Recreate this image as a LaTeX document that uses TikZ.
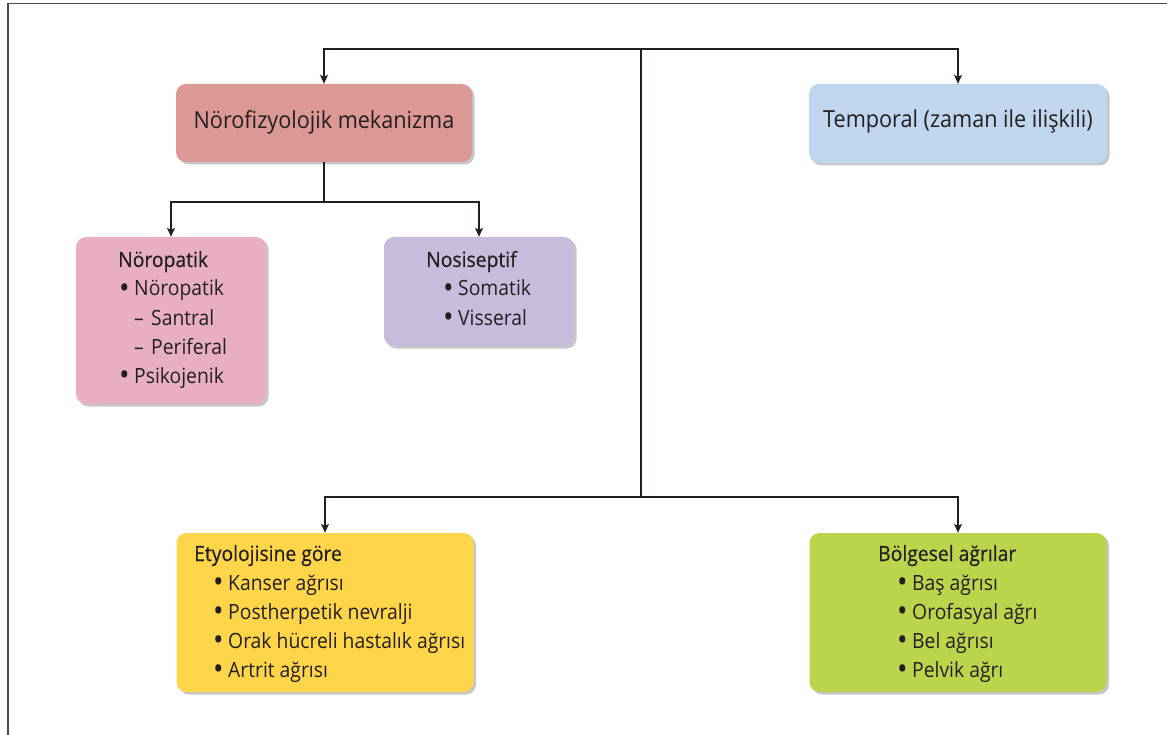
\documentclass[tikz,border=0pt]{standalone}
\usepackage{fontspec}
\setmainfont{Open Sans}[FakeStretch=0.92]
\newfontfamily\subtf{Open Sans}[FakeStretch=0.92, FakeBold=0.5]
\usetikzlibrary{arrows.meta,shadows}
\definecolor{cNeuro}{HTML}{DC9894}
\definecolor{cTemp}{HTML}{C0D6EE}
\definecolor{cNeur}{HTML}{E8AFC3}
\definecolor{cNos}{HTML}{C8BCDD}
\definecolor{cEty}{HTML}{FFD54A}
\definecolor{cBolg}{HTML}{BAD54C}
\definecolor{ink}{HTML}{231F20}
\definecolor{framec}{HTML}{4A4A4A}
\newcommand{\bul}{\makebox[15pt][l]{\raisebox{-0.12em}{\scalebox{1.45}{•}}}}
\newcommand{\dsh}{\makebox[17pt][l]{–}}
\begin{document}
\begin{tikzpicture}[x=1pt,y=-1pt,
  box/.style={rounded corners=10pt, draw=none, inner sep=0pt,
    drop shadow={shadow xshift=2.5pt, shadow yshift=-2.5pt, fill=black!22, opacity=1}},
  txt/.style={anchor=base west, inner sep=0pt, text=ink, font=\fontsize{21}{25}\selectfont},
  sub/.style={txt, font=\fontsize{21}{25}\subtf},
  ctxt/.style={anchor=base, inner sep=0pt, text=ink, font=\fontsize{23.5}{27}\selectfont},
  conn/.style={draw=ink, line width=1.1pt},
  arr/.style={conn, -{Stealth[length=9pt,width=8pt,inset=2pt]}}]
\useasboundingbox (0,0) rectangle (1167,735);
\draw[draw=framec, line width=1.5pt] (8,735) -- (8,3.5) -- (1167,3.5);

% boxes
\node[box, fill=cNeuro, minimum width=296pt, minimum height=78pt] (nf) at (324,123) {};
\node[box, fill=cTemp, minimum width=298pt, minimum height=79pt] (tp) at (958,123.5) {};
\node[box, fill=cNeur, minimum width=190pt, minimum height=167pt] (np) at (171,320.5) {};
\node[box, fill=cNos, minimum width=190pt, minimum height=109pt] (ns) at (479,291.5) {};
\node[box, fill=cEty, minimum width=297pt, minimum height=159pt] (et) at (325,612.5) {};
\node[box, fill=cBolg, minimum width=297pt, minimum height=159pt] (bg) at (958,612.5) {};

% connectors
\coordinate (t) at (641,49);
\coordinate (b) at (641,497);
\coordinate (m) at (324,202);
\draw[arr] (t) -| (nf);
\draw[arr] (t) -| (tp);
\draw[conn] (t) -- (b);
\draw[arr] (b) -| (et);
\draw[arr] (b) -| (bg);
\draw[conn] (nf) -- (m);
\draw[arr] (m) -| (np);
\draw[arr] (m) -| (ns);

% texts
\node[ctxt] (nfT) at (324,129) {Nörofizyolojik mekanizma};
\node[ctxt] (tpT) at (958,128) {Temporal (zaman ile ilişkili)};

\node[sub] (npT) at (118,267) {Nöropatik};
\node[txt] (np1) at (119,296) {\bul Nöropatik};
\node[txt] (np2) at (134,325) {\dsh Santral};
\node[txt] (np3) at (134,354) {\dsh Periferal};
\node[txt] (np4) at (119,383) {\bul Psikojenik};

\node[sub] (nsT) at (426,267) {Nosiseptif};
\node[txt] (ns1) at (443,296) {\bul Somatik};
\node[txt] (ns2) at (443,325) {\bul Visseral};

\node[sub] (etT) at (194,561) {Etyolojisine göre};
\node[txt] (et1) at (213,590) {\bul Kanser ağrısı};
\node[txt] (et2) at (213,619) {\bul Postherpetik nevralji};
\node[txt] (et3) at (213,648) {\bul Orak hücreli hastalık ağrısı};
\node[txt] (et4) at (213,677) {\bul Artrit ağrısı};

\node[sub] (bgT) at (878,561) {Bölgesel ağrılar};
\node[txt] (bg1) at (897,590) {\bul Baş ağrısı};
\node[txt] (bg2) at (897,619) {\bul Orofasyal ağrı};
\node[txt] (bg3) at (897,648) {\bul Bel ağrısı};
\node[txt] (bg4) at (897,677) {\bul Pelvik ağrı};
\end{tikzpicture}
\end{document}
